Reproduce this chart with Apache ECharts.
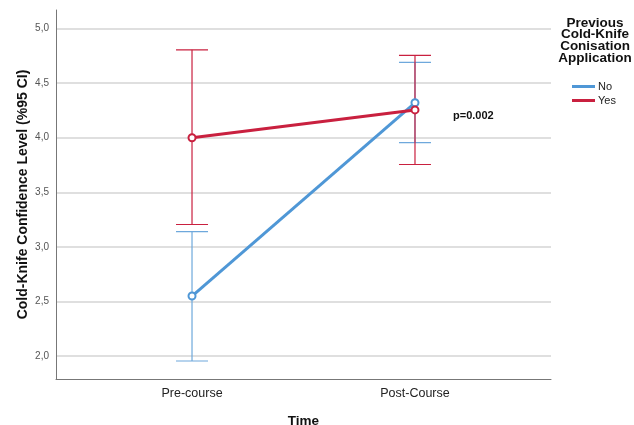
<!DOCTYPE html>
<html><head><meta charset="utf-8">
<script src="https://cdn.jsdelivr.net/npm/echarts@6/dist/echarts.min.js"></script>
<style>html,body{margin:0;padding:0;background:#fff}#c{width:634px;height:425px}</style>
</head><body><div id="c"></div>
<script>
const categories = ['Pre-course', 'Post-Course'];
const yTicks = [2.0, 2.5, 3.0, 3.5, 4.0, 4.5, 5.0];
const noMean = [2.55, 4.32];
const noLow = [1.955, 3.955];
const noHigh = [3.14, 4.69];
const yesMean = [4.0, 4.255];
const yesLow = [3.205, 3.755];
const yesHigh = [4.805, 4.755];
const pText = 'p=0.002';

const BLUE = '#4f97d6';
const RED = '#c9203f';

function errData(lo, hi) { return categories.map((c, i) => [i, lo[i], hi[i]]); }
function lineData(m) { return categories.map((c, i) => [i, m[i]]); }

function errRender(color) {
  return function (params, api) {
    const x = api.value(0);
    const p1 = api.coord([x, api.value(1)]);
    const p2 = api.coord([x, api.value(2)]);
    const hw = 16;
    const st = { stroke: color, lineWidth: 1.2 };
    return { type: 'group', children: [
      { type: 'line', shape: { x1: p1[0], y1: p1[1], x2: p2[0], y2: p2[1] }, style: st },
      { type: 'line', shape: { x1: p1[0] - hw, y1: p1[1], x2: p1[0] + hw, y2: p1[1] }, style: st },
      { type: 'line', shape: { x1: p2[0] - hw, y1: p2[1], x2: p2[0] + hw, y2: p2[1] }, style: st }
    ]};
  };
}

const chart = echarts.init(document.getElementById('c'), null, { renderer: 'canvas' });
chart.setOption({
  animation: false,
  grid: { left: 56, top: 10, right: 83, bottom: 46, containLabel: false, outerBoundsMode: 'none' },
  xAxis: {
    type: 'value', min: -0.61, max: 1.61,
    name: 'Time', nameLocation: 'middle', nameGap: 35,
    nameTextStyle: { fontFamily: 'Liberation Sans', fontWeight: 'bold', fontSize: 13.5, color: '#111' },
    axisLine: { show: true, onZero: false, lineStyle: { color: '#777', width: 1 } },
    axisTick: { show: false, customValues: [0, 1] },
    axisLabel: { customValues: [0, 1], formatter: v => categories[Math.round(v)] || '', margin: 8,
      fontFamily: 'Liberation Sans', fontSize: 12.5, color: '#222' },
    splitLine: { show: false }
  },
  yAxis: {
    type: 'value', min: 1.79, max: 5.17,
    name: 'Cold-Knife Confidence Level (%95 CI)', nameLocation: 'middle', nameGap: 26, nameMoveOverlap: false,
    nameTextStyle: { fontFamily: 'Liberation Sans', fontWeight: 'bold', fontSize: 14, color: '#111' },
    axisLine: { show: true, onZero: false, lineStyle: { color: '#777', width: 1 } },
    axisTick: { show: false, customValues: yTicks },
    axisLabel: { customValues: yTicks, formatter: v => v.toFixed(1).replace('.', ','), margin: 7,
      fontFamily: 'Liberation Sans', fontSize: 10, color: '#555' },
    splitLine: { show: true, lineStyle: { color: '#d4d4d4', width: 1.5 } }
  },
  legend: {
    data: ['No', 'Yes'], orient: 'vertical', left: 567, top: 76,
    icon: 'rect', itemWidth: 23, itemHeight: 3, itemGap: 3,
    textStyle: { fontFamily: 'Liberation Sans', fontSize: 11, color: '#222', padding: [0, 0, 0, -2] }
  },
  graphic: [
    { type: 'text', x: 595, y: 17, style: { text: 'Previous\nCold-Knife\nConisation\nApplication',
      align: 'center', fontFamily: 'Liberation Sans', fontWeight: 'bold', fontSize: 13.5, lineHeight: 11.7, fill: '#111' } },
    { type: 'text', left: 453, top: 110, style: { text: pText, fontFamily: 'Liberation Sans', fontWeight: 'bold', fontSize: 11, fill: '#111' } }
  ],
  series: [
    { type: 'custom', name: 'NoErr', data: errData(noLow, noHigh), renderItem: errRender('#6ea8dc'), z: 2, silent: true },
    { type: 'custom', name: 'YesErr', data: errData(yesLow, yesHigh), renderItem: errRender(RED), z: 2, silent: true },
    { type: 'line', name: 'No', data: lineData(noMean), symbol: 'emptyCircle', symbolSize: 7,
      lineStyle: { color: BLUE, width: 3 }, itemStyle: { color: BLUE, borderWidth: 1 }, color: BLUE, z: 3 },
    { type: 'line', name: 'Yes', data: lineData(yesMean), symbol: 'emptyCircle', symbolSize: 7,
      lineStyle: { color: RED, width: 3 }, itemStyle: { color: RED, borderWidth: 1 }, color: RED, z: 4 }
  ]
});
</script></body></html>
